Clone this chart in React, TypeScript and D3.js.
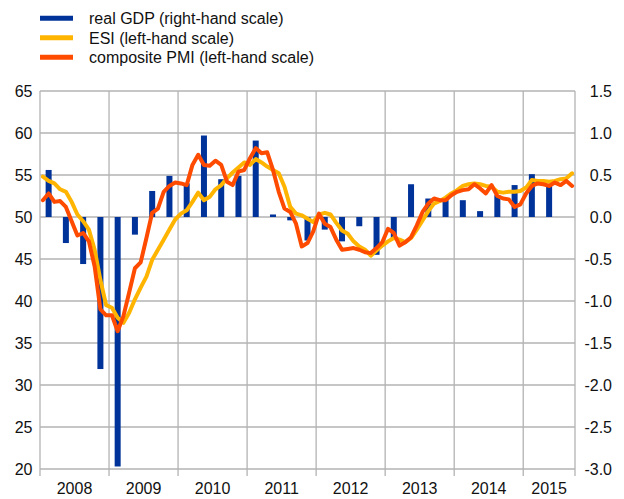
import React from "react";
import * as d3 from "d3";

const years = ["2008", "2009", "2010", "2011", "2012", "2013", "2014", "2015"];
const leftTicks = [20, 25, 30, 35, 40, 45, 50, 55, 60, 65];
const rightTicks = [-3.0, -2.5, -2.0, -1.5, -1.0, -0.5, 0.0, 0.5, 1.0, 1.5];

// quarterly real GDP growth (q-o-q, %), 2008Q1 - 2015Q2
const gdp = [
  0.56, -0.31, -0.56, -1.81,
  -2.97, -0.21, 0.31, 0.49,
  0.40, 0.97, 0.45, 0.49,
  0.91, 0.03, -0.04, -0.28,
  -0.15, -0.29, -0.11, -0.45,
  -0.27, 0.39, 0.22, 0.20,
  0.20, 0.07, 0.26, 0.38,
  0.51, 0.38,
];

// monthly ESI (rescaled), Jan 2008 - Sep 2015
const esi = [
  54.8, 54.3, 54.0, 53.3, 53.0, 51.8, 50.3, 49.5, 48.5, 46.1, 42.5, 39.5,
  39.2, 38.0, 37.4, 38.6, 40.2, 41.6, 42.9, 44.9, 46.1, 47.3, 48.5, 49.7,
  50.4, 50.8, 51.8, 52.9, 52.0, 52.4, 53.3, 53.8, 54.6, 55.3, 55.9, 56.5,
  56.2, 56.9, 56.5, 56.0, 55.6, 55.2, 53.6, 51.2, 50.4, 50.2, 49.8, 49.4,
  50.3, 50.5, 50.3, 49.3, 48.4, 48.0, 47.1, 46.5, 46.1, 45.4, 46.0, 46.6,
  47.1, 47.5, 47.3, 47.0, 47.5, 48.5, 49.6, 50.7, 51.6, 51.9, 52.3, 52.8,
  53.2, 53.7, 53.9, 54.0, 53.9, 53.7, 53.6, 53.0, 52.9, 53.0, 53.0, 53.1,
  53.5, 54.4, 54.3, 54.3, 54.2, 54.3, 54.5, 54.6, 55.2,
];

// monthly composite PMI, Jan 2008 - Sep 2015
const pmi = [
  52.0, 52.8, 51.8, 51.9, 51.2, 49.5, 47.8, 48.1, 47.1, 44.1, 39.0, 38.3,
  38.3, 36.4, 38.2, 41.0, 43.9, 44.6, 47.5, 50.5, 51.0, 53.0, 53.7, 54.1,
  54.0, 53.8, 56.2, 57.4, 56.2, 56.1, 56.7, 56.2, 54.2, 53.8, 55.4, 55.6,
  57.0, 58.2, 57.6, 57.7, 55.6, 53.0, 51.0, 50.6, 49.2, 46.5, 46.9, 48.3,
  50.4, 49.2, 48.8, 47.3, 46.1, 46.2, 46.3, 46.1, 45.8, 45.7, 46.3, 47.0,
  48.6, 48.1, 46.6, 47.0, 47.6, 49.0, 50.6, 51.6, 52.2, 52.0, 52.0, 52.6,
  53.0, 53.2, 53.3, 53.9, 53.4, 52.8, 53.8, 52.5, 52.2, 52.1, 51.2, 51.5,
  52.8, 53.7, 54.0, 53.9, 53.7, 54.1, 53.8, 54.3, 53.7,
];

const legendItems = [
  { label: "real GDP (right-hand scale)", color: "#003399" },
  { label: "ESI (left-hand scale)", color: "#FFB400" },
  { label: "composite PMI (left-hand scale)", color: "#FF4B00" },
];

const W = 624;
const H = 499;
const L = 40;
const R = 575;
const T = 91;
const B = 469;
const TOTAL_MONTHS = 93;
const FONT = "'Liberation Sans', Arial, sans-serif";
const GRID = "#b3b3b3";

export default function App() {
  const x = d3.scaleLinear().domain([0, TOTAL_MONTHS]).range([L, R]);
  const yL = d3.scaleLinear().domain([20, 65]).range([B, T]);
  const yR = d3.scaleLinear().domain([-3, 1.5]).range([B, T]);

  const lineGen = d3
    .line<number>()
    .x((_, i) => x(i + 0.5))
    .y((d) => yL(d))
    .curve(d3.curveLinear);

  const yearStarts = years.map((_, k) => k * 12);
  const barW = 6;

  return (
    <svg
      width={W}
      height={H}
      style={{ position: "absolute", left: 0, top: 0, background: "#fff" }}
      fontFamily={FONT}
    >
      {/* horizontal gridlines */}
      {leftTicks.map((t) => (
        <line key={"h" + t} x1={L} x2={R} y1={yL(t)} y2={yL(t)} stroke={GRID} strokeWidth={1.3} />
      ))}
      {/* vertical gridlines at year starts + ticks */}
      {yearStarts.map((m) => (
        <line key={"v" + m} x1={x(m)} x2={x(m)} y1={T} y2={B + 7} stroke={GRID} strokeWidth={1.3} />
      ))}
      <line x1={R} x2={R} y1={T} y2={B + 7} stroke={GRID} strokeWidth={1.3} />

      {/* GDP bars */}
      {gdp.map((v, q) => {
        const cx = x(q * 3 + 1.5);
        const y0 = yR(0);
        const y1 = yR(v);
        return (
          <rect
            key={"b" + q}
            x={cx - barW / 2}
            y={Math.min(y0, y1)}
            width={barW}
            height={Math.abs(y1 - y0)}
            fill="#003399"
          />
        );
      })}

      {/* lines */}
      <path d={lineGen(esi) || ""} fill="none" stroke="#FFB400" strokeWidth={4} strokeLinejoin="round" strokeLinecap="round" />
      <path d={lineGen(pmi) || ""} fill="none" stroke="#FF4B00" strokeWidth={4} strokeLinejoin="round" strokeLinecap="round" />

      {/* left axis labels */}
      {leftTicks.map((t) => (
        <text key={"l" + t} x={32.5} y={yL(t)} dy="0.36em" textAnchor="end" fontSize={16} fill="#111">
          {t}
        </text>
      ))}
      {/* right axis labels */}
      {rightTicks.map((t) => (
        <text key={"r" + t} x={612} y={yR(t)} dy="0.36em" textAnchor="end" fontSize={16} fill="#111">
          {t.toFixed(1)}
        </text>
      ))}
      {/* year labels */}
      {years.map((yr, k) => {
        const s = k * 12;
        const e = Math.min((k + 1) * 12, TOTAL_MONTHS);
        return (
          <text key={yr} x={x((s + e) / 2)} y={493.5} textAnchor="middle" fontSize={16} fill="#111">
            {yr}
          </text>
        );
      })}

      {/* legend */}
      {legendItems.map((it, i) => {
        const cy = 18.3 + i * 19.5;
        return (
          <g key={it.label}>
            <line x1={40} x2={73} y1={cy} y2={cy} stroke={it.color} strokeWidth={5} />
            <text x={89} y={cy} dy="0.36em" fontSize={16} fill="#111">
              {it.label}
            </text>
          </g>
        );
      })}
    </svg>
  );
}
